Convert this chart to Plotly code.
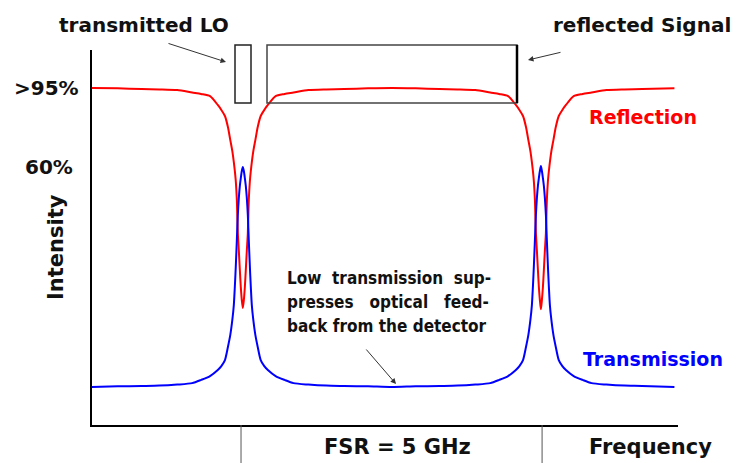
import plotly.graph_objects as go

# ---- data (frequency in GHz, intensity in arbitrary units) ----
freq_ghz = [
    0.00, 0.43, 0.83, 1.13, 1.43, 1.68, 1.83, 1.98, 2.11, 2.17, 2.23, 2.28, 2.32, 2.354, 2.379, 2.396, 2.413, 2.43, 2.446, 2.463, 2.48, 2.496, 2.513,
    2.53,
    2.547, 2.564, 2.58, 2.597, 2.614, 2.63, 2.647, 2.664, 2.681, 2.706, 2.74, 2.78, 2.83, 2.89, 2.95, 3.08, 3.23, 3.38, 3.63, 3.93, 4.23, 4.63,
    5.03,
    5.43, 5.83, 6.13, 6.43, 6.68, 6.83, 6.98, 7.11, 7.17, 7.23, 7.28, 7.32, 7.354, 7.379, 7.396, 7.413, 7.43, 7.446, 7.463, 7.48, 7.496, 7.513,
    7.53,
    7.547, 7.564, 7.58, 7.597, 7.614, 7.63, 7.647, 7.664, 7.681, 7.706, 7.74, 7.78, 7.83, 7.89, 7.95, 8.08, 8.23, 8.38, 8.63, 8.93, 9.23, 9.77,
]

reflection = [
    95.0, 94.9, 94.7, 94.6, 94.4, 93.7, 93.3, 92.7, 90.2, 88.8, 87.1, 84.0, 80.3, 77.2, 74.1, 71.6, 68.5, 63.4, 54.1, 49.1, 43.7, 38.9, 35.2,
    33.0,
    35.2, 38.9, 43.7, 49.1, 54.1, 63.4, 68.5, 71.6, 74.1, 77.2, 80.3, 84.0, 87.1, 88.8, 90.2, 92.7, 93.3, 93.7, 94.4, 94.6, 94.7, 94.9,
    95.0,
    94.9, 94.7, 94.6, 94.4, 93.7, 93.3, 92.7, 90.2, 88.8, 87.1, 84.0, 80.3, 77.2, 74.1, 71.6, 68.5, 63.4, 54.1, 49.1, 43.7, 38.9, 35.2,
    32.6,
    35.2, 38.9, 43.7, 49.1, 54.1, 63.4, 68.5, 71.6, 74.1, 77.2, 80.3, 84.0, 87.1, 88.8, 90.2, 92.7, 93.3, 93.7, 94.4, 94.6, 94.7, 94.9,
]

transmission = [
    10.7, 10.9, 11.0, 11.1, 11.4, 11.8, 12.7, 13.8, 15.5, 16.6, 18.3, 22.0, 25.4, 29.6, 33.8, 38.9, 45.1, 52.2, 59.2, 64.0, 67.4, 69.6, 71.6,
    72.7,
    71.6, 69.6, 67.4, 64.0, 59.2, 52.2, 45.1, 38.9, 33.8, 29.6, 25.4, 22.0, 18.3, 16.6, 15.5, 13.8, 12.7, 11.8, 11.4, 11.1, 11.0, 10.9,
    10.7,
    10.9, 11.0, 11.1, 11.4, 11.8, 12.7, 13.8, 15.5, 16.6, 18.3, 22.0, 25.4, 29.6, 33.8, 38.9, 45.1, 52.2, 59.2, 64.0, 67.4, 69.6, 71.6,
    73.0,
    71.6, 69.6, 67.4, 64.0, 59.2, 52.2, 45.1, 38.9, 33.8, 29.6, 25.4, 22.0, 18.3, 16.6, 15.5, 13.8, 12.7, 11.8, 11.4, 11.1, 11.0, 10.7,
]

fsr_marks_ghz = [2.50, 7.55]
level_labels = [">95%", "60%"]
level_values = [95.0, 72.7]

# ---- layout helpers (pixel -> paper) ----
W, H = 738, 463
L, R, T, B = 92, 678, 50, 425


def xp(px):
    return (px - L) / (R - L)


def yp(py):
    return (B - py) / (B - T)


FONT = "DejaVu Sans"
fig = go.Figure()
fig.add_trace(go.Scatter(x=freq_ghz, y=reflection, mode="lines",
                         line=dict(color="#ff0000", width=2, shape="spline", smoothing=0.7),
                         hoverinfo="skip"))
fig.add_trace(go.Scatter(x=freq_ghz, y=transmission, mode="lines",
                         line=dict(color="#0000ff", width=2, shape="spline", smoothing=0.7),
                         hoverinfo="skip"))

ann = []


def text(t, px, py, size, color="#111111", angle=0, xanchor="center", yref="paper", y=None):
    ann.append(dict(text=t, x=xp(px), y=(yp(py) if y is None else y), xref="paper", yref=yref,
                    showarrow=False, xanchor=xanchor, yanchor="middle", textangle=angle,
                    font=dict(family=FONT, size=size, color=color, weight="bold")))


text("transmitted LO", 144, 25, 20)
text("reflected Signal", 642, 25, 20)
for lab, val, cx in zip(level_labels, level_values, [46, 49]):
    text(lab, cx, 0, 20, yref="y", y=val)
text("Reflection", 643, 117, 19, color="#ff0000")
text("Transmission", 653, 359, 19, color="#0000ff")
text("Intensity", 56, 247, 21, angle=-90)
text("Frequency", 650, 447, 21)
text("FSR = 5 GHz", 397, 447, 21)

note_lines = ["Low\u00a0 transmission\u00a0 sup-",
              "presses\u00a0\u00a0 optical\u00a0\u00a0 feed-",
              "back from the detector"]
for i, ln in enumerate(note_lines):
    ann.append(dict(text=ln, x=xp(285), y=yp(278 + 24 * i), xref="paper", yref="paper",
                    showarrow=False, xanchor="left", yanchor="middle",
                    font=dict(family="DejaVu Sans Condensed, DejaVu Sans", size=17,
                              color="#111111", weight="bold")))


def arrow(tail, head):
    ann.append(dict(text="", x=xp(head[0]), y=yp(head[1]), xref="paper", yref="paper",
                    ax=tail[0] - head[0], ay=tail[1] - head[1], axref="pixel", ayref="pixel",
                    showarrow=True, arrowhead=2, arrowsize=1.1, arrowwidth=1,
                    arrowcolor="#333333", standoff=0))


arrow((167, 43), (226, 62))
arrow((562, 52), (528, 60))
arrow((365, 348), (396, 384))

shapes = [
    dict(type="rect", xref="paper", yref="paper", x0=xp(235), x1=xp(251), y0=yp(103), y1=yp(45),
         line=dict(color="#222222", width=1.5)),
    dict(type="rect", xref="paper", yref="paper", x0=xp(267), x1=xp(517), y0=yp(103), y1=yp(45),
         line=dict(color="#444444", width=1.5)),
    dict(type="line", xref="paper", yref="paper", x0=xp(517), x1=xp(517), y0=yp(103), y1=yp(45),
         line=dict(color="#000000", width=2.5)),
]
for f in fsr_marks_ghz:
    shapes.append(dict(type="line", xref="x", yref="paper", x0=f, x1=f,
                       y0=0, y1=yp(470), line=dict(color="#555555", width=1)))

fig.update_layout(
    width=W, height=H, autosize=False,
    margin=dict(l=L, r=W - R, t=T, b=H - B, pad=0),
    paper_bgcolor="white", plot_bgcolor="white",
    showlegend=False,
    annotations=ann, shapes=shapes,
    xaxis=dict(range=[0, 9.83], showline=True, linecolor="black", linewidth=2,
               showgrid=False, zeroline=False, showticklabels=False, ticks=""),
    yaxis=dict(range=[0, 105.7], showline=True, linecolor="black", linewidth=2,
               showgrid=False, zeroline=False, showticklabels=False, ticks=""),
)

fig.write_html("out.html", config={"displayModeBar": False})
